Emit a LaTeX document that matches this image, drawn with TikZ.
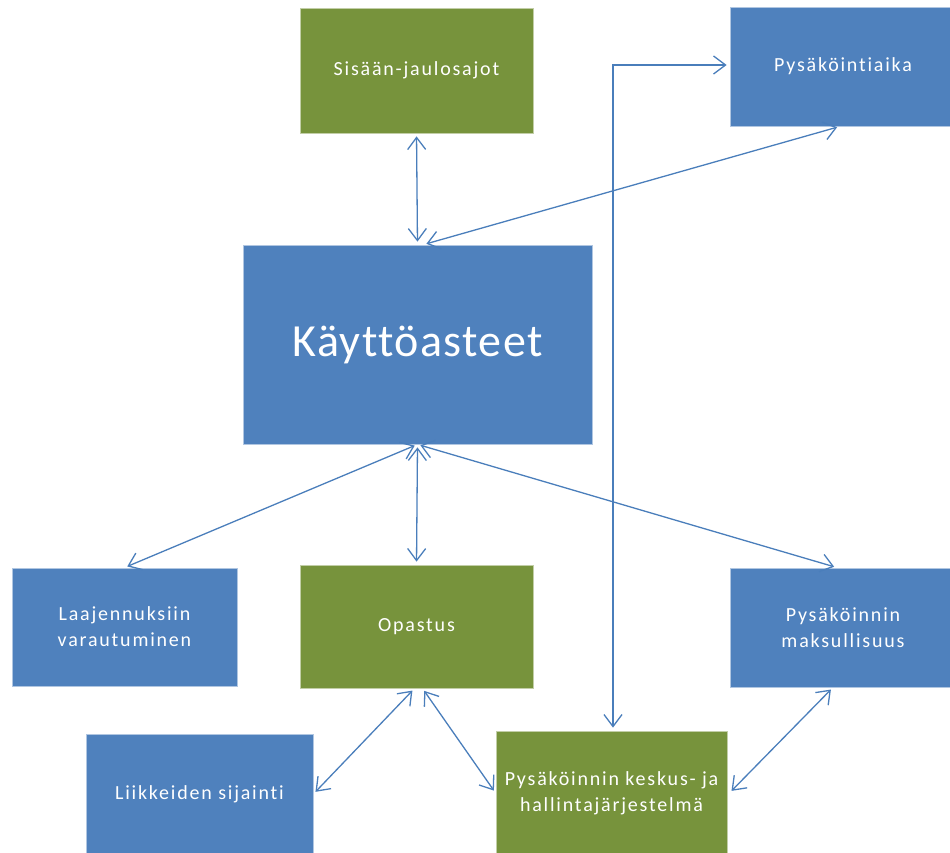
\documentclass[tikz,border=0pt]{standalone}
\usepackage{fontspec}
\setmainfont{Carlito}
\newfontfamily\boxfont[LetterSpace=9,RawFeature=-liga]{Carlito}
\newfontfamily\bigfont[LetterSpace=3,RawFeature=-liga]{Carlito}
\usetikzlibrary{arrows.meta}
\definecolor{boxblue}{HTML}{4F81BD}
\definecolor{boxgreen}{HTML}{77933C}
\definecolor{linkblue}{HTML}{4A7EBB}
\tikzset{
  panel/.style={minimum width=#1, inner sep=0pt, align=center, text=white,
    font=\boxfont\fontsize{20}{26}\selectfont, line width=0.8pt},
  bluebox/.style={panel=#1, fill=boxblue, draw=boxblue!45!white},
  greenbox/.style={panel=#1, fill=boxgreen, draw=boxgreen!45!white},
  link/.style={draw=linkblue, line width=1.3pt,
    {Straight Barb[length=12pt,width=18pt,line width=1.3pt]}-{Straight Barb[length=12pt,width=18pt,line width=1.3pt]},
    shorten <=3pt, shorten >=3pt}
}
\begin{document}
\begin{tikzpicture}[x=1pt,y=-1pt]
\useasboundingbox (0,0) rectangle (950,852);

% boxes
\node[greenbox=233pt, minimum height=125pt] (sis) at (416.5,70.5) {Sisään-jaulosajot};
\node[bluebox=226pt, minimum height=119pt] (aika) at (843,66.5) {Pysäköintiaika};
\node[bluebox=349pt, minimum height=199pt, font=\bigfont\fontsize{46}{50}\selectfont] (kay) at (417.5,344.5) {Käyttöasteet};
\node[bluebox=225pt, minimum height=118pt] (laa) at (124.5,627) {Laajennuksiin\\varautuminen};
\node[greenbox=233pt, minimum height=123pt] (opa) at (416.5,626.5) {Opastus};
\node[bluebox=226pt, minimum height=119pt] (mak) at (843,627.5) {Pysäköinnin\\maksullisuus};
\node[bluebox=227pt, minimum height=120pt] (lii) at (199.5,794) {Liikkeiden sijainti};
\node[greenbox=231pt, minimum height=124pt] (kes) at (611.5,793) {Pysäköinnin keskus- ja\\hallintajärjestelmä};

% connectors
\draw[link] (sis.south) -- (kay.north);
\draw[link] ([xshift=6pt]kay.north) -- ([xshift=-3pt]aika.south);
\draw[link] ([xshift=1.5pt]kes.north) |- ([yshift=1.5pt]aika.west);
\draw[link] (kay.south) -- (laa.north);
\draw[link] (kay.south) -- (opa.south |- opa.north);
\draw[link] (kay.south) -- ([xshift=-6pt]mak.north);
\draw[link] ([xshift=-2pt]opa.south) -- (lii.east);
\draw[link] ([xshift=6pt]opa.south) -- (kes.west);
\draw[link] ([xshift=-10pt]mak.south) -- ([xshift=2pt]kes.east);
\end{tikzpicture}
\end{document}
